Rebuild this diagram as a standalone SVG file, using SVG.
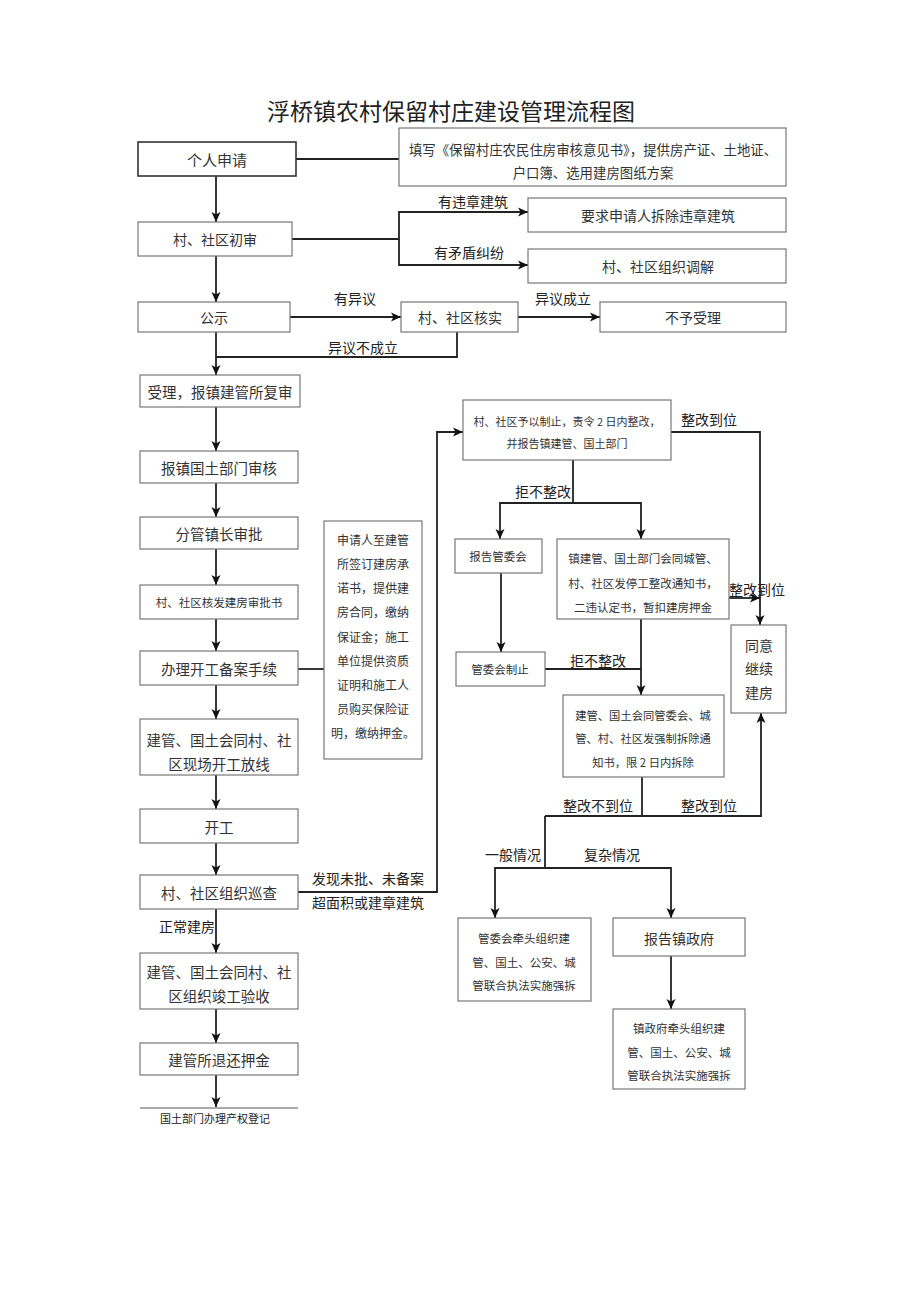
<svg xmlns="http://www.w3.org/2000/svg" width="920" height="1301" viewBox="0 0 920 1301">
<defs>
<marker id="ah" markerUnits="userSpaceOnUse" markerWidth="10" markerHeight="10" viewBox="0 0 10 10" refX="10" refY="5" orient="auto">
<path d="M0,0.5 L10,5 L0,9.5 L2.5,5 Z" fill="#111"/>
</marker>
<style>
.b{fill:#fff;stroke:#777;stroke-width:1.2}
.bd{fill:#fff;stroke:#333;stroke-width:1.6}
.t{font-family:"Noto Sans CJK SC","Noto Sans",sans-serif;fill:#333;text-anchor:middle;dominant-baseline:central}
.l{font-family:"Noto Sans CJK SC","Noto Sans",sans-serif;fill:#222;text-anchor:middle;dominant-baseline:central;font-size:14px}
.c{fill:none;stroke:#222;stroke-width:1.8}
.a{fill:none;stroke:#222;stroke-width:1.8;marker-end:url(#ah)}
</style>
</defs>
<rect width="920" height="1301" fill="#fff"/>
<text x="451" y="110" class="t" style="font-size:23px;fill:#222">浮桥镇农村保留村庄建设管理流程图</text>

<g id="connectors">
<line class="c" x1="296" y1="159" x2="399" y2="159"/>
<line class="a" x1="216" y1="176" x2="216" y2="222"/>
<polyline class="c" points="292,239 399,239"/>
<polyline class="a" points="399,239 399,212 528,212"/>
<polyline class="a" points="399,239 399,265 528,265"/>
<line class="a" x1="216" y1="256" x2="216" y2="302"/>
<line class="a" x1="290" y1="317" x2="401" y2="317"/>
<line class="a" x1="518" y1="317" x2="600" y2="317"/>
<polyline class="c" points="457,332 457,357 216,357"/>
<line class="a" x1="216" y1="332" x2="216" y2="375"/>
<line class="a" x1="216" y1="407" x2="216" y2="451"/>
<line class="a" x1="216" y1="483" x2="216" y2="517"/>
<line class="a" x1="216" y1="549" x2="216" y2="585"/>
<line class="a" x1="216" y1="619" x2="216" y2="651"/>
<line class="c" x1="298" y1="669" x2="324" y2="669"/>
<line class="a" x1="216" y1="685" x2="216" y2="719"/>
<line class="a" x1="216" y1="775" x2="216" y2="809"/>
<line class="a" x1="216" y1="843" x2="216" y2="875"/>
<polyline class="a" points="298,892 437,892 437,432 463,432"/>
<line class="a" x1="216" y1="909" x2="216" y2="953"/>
<line class="a" x1="216" y1="1009" x2="216" y2="1043"/>
<line class="a" x1="216" y1="1075" x2="216" y2="1107"/>
<line x1="140" y1="1108" x2="298" y2="1108" stroke="#555" stroke-width="1"/>
<polyline class="a" points="671,432 760,432 760,625"/>
<line class="c" x1="573" y1="460" x2="573" y2="503"/>
<polyline class="a" points="573,503 500,503 500,539"/>
<polyline class="a" points="573,503 641,503 641,539"/>
<line class="a" x1="729" y1="598" x2="760" y2="598"/>
<line class="a" x1="501" y1="573" x2="501" y2="652"/>
<line class="c" x1="545" y1="669" x2="641" y2="669"/>
<line class="a" x1="641" y1="619" x2="641" y2="695"/>
<line class="c" x1="642" y1="777" x2="642" y2="816"/>
<polyline class="a" points="545,816 761,816 761,713"/>
<line class="c" x1="545" y1="816" x2="545" y2="868"/>
<polyline class="a" points="545,868 495,868 495,918"/>
<polyline class="a" points="545,868 671,868 671,918"/>
<line class="a" x1="671" y1="956" x2="671" y2="1009"/>
</g>

<g id="labels">
<text class="l" x="473" y="201">有违章建筑</text>
<text class="l" x="469" y="252">有矛盾纠纷</text>
<text class="l" x="355" y="298">有异议</text>
<text class="l" x="563" y="298">异议成立</text>
<text class="l" x="363" y="347">异议不成立</text>
<text class="l" x="368" y="878">发现未批、未备案</text>
<text class="l" x="368" y="902">超面积或建章建筑</text>
<text class="l" x="187" y="926">正常建房</text>
<text class="l" x="709" y="419">整改到位</text>
<text class="l" x="543" y="491">拒不整改</text>
<text class="l" x="757" y="589">整改到位</text>
<text class="l" x="598" y="660">拒不整改</text>
<text class="l" x="598" y="805">整改不到位</text>
<text class="l" x="709" y="805">整改到位</text>
<text class="l" x="513" y="854">一般情况</text>
<text class="l" x="612" y="854">复杂情况</text>
<text class="t" x="215" y="1118" style="font-size:11px;fill:#222">国土部门办理产权登记</text>
</g>

<g id="n1"><rect class="bd" x="138" y="142" width="158" height="34"/><text class="t" x="217" y="159" style="font-size:15px">个人申请</text></g>
<g id="n2"><rect class="b" x="399" y="128" width="387" height="58"/><text class="t" x="593" y="149" style="font-size:13.4px">填写《保留村庄农民住房审核意见书》，提供房产证、土地证、</text><text class="t" x="593" y="172" style="font-size:13.4px">户口簿、选用建房图纸方案</text></g>
<g id="n3"><rect class="b" x="138" y="222" width="154" height="34"/><text class="t" x="215" y="239" style="font-size:14px">村、社区初审</text></g>
<g id="n4"><rect class="b" x="528" y="198" width="258" height="34"/><text class="t" x="658" y="215" style="font-size:14px">要求申请人拆除违章建筑</text></g>
<g id="n5"><rect class="b" x="528" y="249" width="258" height="34"/><text class="t" x="658" y="266" style="font-size:14px">村、社区组织调解</text></g>
<g id="n6"><rect class="b" x="138" y="302" width="152" height="30"/><text class="t" x="214" y="317" style="font-size:14px">公示</text></g>
<g id="n7"><rect class="b" x="401" y="302" width="117" height="30"/><text class="t" x="460" y="317" style="font-size:14px">村、社区核实</text></g>
<g id="n8"><rect class="b" x="600" y="302" width="186" height="30"/><text class="t" x="693" y="317" style="font-size:14px">不予受理</text></g>
<g id="n9"><rect class="b" x="140" y="375" width="160" height="32"/><text class="t" x="220" y="391" style="font-size:14.5px">受理，报镇建管所复审</text></g>
<g id="n10"><rect class="b" x="140" y="451" width="158" height="32"/><text class="t" x="219" y="467" style="font-size:14.5px">报镇国土部门审核</text></g>
<g id="n11"><rect class="b" x="140" y="517" width="158" height="32"/><text class="t" x="219" y="533" style="font-size:14.5px">分管镇长审批</text></g>
<g id="n12"><rect class="b" x="140" y="585" width="158" height="34"/><text class="t" x="219" y="602" style="font-size:11.5px">村、社区核发建房审批书</text></g>
<g id="n13"><rect class="b" x="140" y="651" width="158" height="34"/><text class="t" x="219" y="668" style="font-size:14.5px">办理开工备案手续</text></g>
<g id="n14"><rect class="b" x="324" y="521" width="98" height="238"/>
<text class="t" x="373" y="539" style="font-size:12px">申请人至建管</text>
<text class="t" x="373" y="563" style="font-size:12px">所签订建房承</text>
<text class="t" x="373" y="587" style="font-size:12px">诺书，提供建</text>
<text class="t" x="373" y="611" style="font-size:12px">房合同，缴纳</text>
<text class="t" x="373" y="636" style="font-size:12px">保证金；施工</text>
<text class="t" x="373" y="660" style="font-size:12px">单位提供资质</text>
<text class="t" x="373" y="684" style="font-size:12px">证明和施工人</text>
<text class="t" x="373" y="708" style="font-size:12px">员购买保险证</text>
<text class="t" x="373" y="732" style="font-size:12px">明，缴纳押金。</text></g>
<g id="n15"><rect class="b" x="140" y="719" width="158" height="56"/><text class="t" x="219" y="739" style="font-size:14.5px">建管、国土会同村、社</text><text class="t" x="219" y="763" style="font-size:14.5px">区现场开工放线</text></g>
<g id="n16"><rect class="b" x="140" y="809" width="158" height="34"/><text class="t" x="219" y="826" style="font-size:14.5px">开工</text></g>
<g id="n17"><rect class="b" x="140" y="875" width="158" height="34"/><text class="t" x="219" y="892" style="font-size:14.5px">村、社区组织巡查</text></g>
<g id="n18"><rect class="b" x="140" y="953" width="158" height="56"/><text class="t" x="219" y="971" style="font-size:14.5px">建管、国土会同村、社</text><text class="t" x="219" y="995" style="font-size:14.5px">区组织竣工验收</text></g>
<g id="n19"><rect class="b" x="140" y="1043" width="158" height="32"/><text class="t" x="219" y="1059" style="font-size:14.5px">建管所退还押金</text></g>
<g id="n20"><rect class="b" x="463" y="400" width="208" height="60"/><text class="t" x="567" y="421" style="font-size:11px">村、社区予以制止，责令 2 日内整改，</text><text class="t" x="567" y="443" style="font-size:11px">并报告镇建管、国土部门</text></g>
<g id="n21"><rect class="b" x="455" y="539" width="87" height="34"/><text class="t" x="498" y="556" style="font-size:11.5px">报告管委会</text></g>
<g id="n22"><rect class="b" x="557" y="539" width="172" height="80"/><text class="t" x="643" y="558" style="font-size:11.5px">镇建管、国土部门会同城管、</text><text class="t" x="643" y="583" style="font-size:11.5px">村、社区发停工整改通知书，</text><text class="t" x="643" y="607" style="font-size:11.5px">二违认定书，暂扣建房押金</text></g>
<g id="n23"><rect class="b" x="731" y="625" width="55" height="88"/><text class="t" x="759" y="645" style="font-size:14px">同意</text><text class="t" x="759" y="668" style="font-size:14px">继续</text><text class="t" x="759" y="692" style="font-size:14px">建房</text></g>
<g id="n24"><rect class="b" x="456" y="652" width="89" height="34"/><text class="t" x="500" y="669" style="font-size:11.5px">管委会制止</text></g>
<g id="n25"><rect class="b" x="563" y="695" width="161" height="82"/><text class="t" x="643" y="715" style="font-size:11.3px">建管、国土会同管委会、城</text><text class="t" x="643" y="738" style="font-size:11.3px">管、村、社区发强制拆除通</text><text class="t" x="643" y="762" style="font-size:11.3px">知书，限 2 日内拆除</text></g>
<g id="n26"><rect class="b" x="458" y="918" width="133" height="83"/><text class="t" x="524" y="938" style="font-size:11.5px">管委会牵头组织建</text><text class="t" x="524" y="962" style="font-size:11.5px">管、国土、公安、城</text><text class="t" x="524" y="985" style="font-size:11.5px">管联合执法实施强拆</text></g>
<g id="n27"><rect class="b" x="613" y="918" width="132" height="38"/><text class="t" x="679" y="938" style="font-size:14px">报告镇政府</text></g>
<g id="n28"><rect class="b" x="613" y="1009" width="132" height="80"/><text class="t" x="679" y="1028" style="font-size:11.5px">镇政府牵头组织建</text><text class="t" x="679" y="1052" style="font-size:11.5px">管、国土、公安、城</text><text class="t" x="679" y="1075" style="font-size:11.5px">管联合执法实施强拆</text></g>
</svg>
